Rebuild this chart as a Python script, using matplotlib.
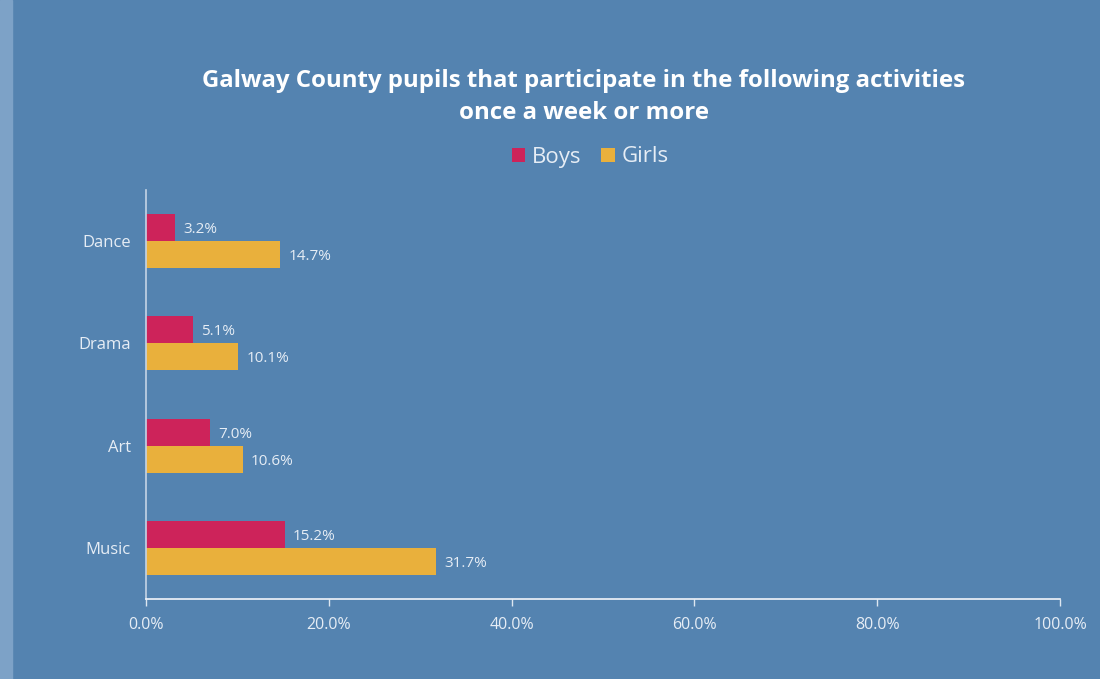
import numpy as np
import matplotlib
matplotlib.use("Agg")
import matplotlib.pyplot as plt
from matplotlib.patches import Rectangle

plt.rcParams["font.family"] = ["Open Sans", "DejaVu Sans"]

categories = ["Dance", "Drama", "Art", "Music"]
boys = [3.2, 5.1, 7.0, 15.2]
girls = [14.7, 10.1, 10.6, 31.7]
xticks = [0, 20, 40, 60, 80, 100]

BG = "#5483B0"
STRIP = "#7DA2C7"
BOYS_C = "#CD235A"
GIRLS_C = "#E9B03C"
TXT = "#E6EDF5"

fig = plt.figure(figsize=(11, 6.79), dpi=100, facecolor=BG)
fig.patches.append(Rectangle((0, 0), 12 / 1100, 1, transform=fig.transFigure,
                             color=STRIP, zorder=0))
ax = fig.add_axes([146 / 1100, 1 - 599 / 679, 914 / 1100, 409 / 679])
ax.set_facecolor(BG)

y = np.arange(len(categories))
h = 0.265
bb = ax.barh(y - h / 2, boys, height=h, color=BOYS_C, label="Boys")
gb = ax.barh(y + h / 2, girls, height=h, color=GIRLS_C, label="Girls")
for bars, vals in ((bb, boys), (gb, girls)):
    for rect, v in zip(bars, vals):
        ax.text(v + 0.9, rect.get_y() + rect.get_height() / 2 + 0.02, f"{v:.1f}%",
                va="center", ha="left", color=TXT, fontsize=11)

ax.set_ylim(len(categories) - 0.5, -0.5)
ax.set_xlim(0, 100)
ax.set_yticks(y)
ax.set_yticklabels(categories)
ax.set_xticks(xticks)
ax.set_xticklabels([f"{t:.1f}%" for t in xticks])
ax.tick_params(axis="y", length=0, pad=11, colors=TXT, labelsize=12)
ax.tick_params(axis="x", length=5, width=1, color="#DDE6F0", pad=8,
               colors=TXT, labelsize=11.5)
for s in ("top", "right"):
    ax.spines[s].set_visible(False)
ax.spines["left"].set_color("#C5D4E5")
ax.spines["bottom"].set_color("#F2F5FA")
ax.spines["left"].set_linewidth(1.2)
ax.spines["bottom"].set_linewidth(1.2)

fig.text(584 / 1100, 1 - 97 / 679,
         "Galway County pupils that participate in the following activities\nonce a week or more",
         ha="center", va="center", color="white", fontsize=17.3, fontweight="bold",
         linespacing=1.45)
fig.legend(handles=[bb, gb], labels=["Boys", "Girls"], loc="center",
           bbox_to_anchor=(590 / 1100, 1 - 157 / 679), ncol=2, frameon=False,
           fontsize=16, labelcolor=TXT, handlelength=0.6, handleheight=0.6,
           handletextpad=0.3, columnspacing=0.9)

fig.savefig("out.png", dpi=100, facecolor=BG)
